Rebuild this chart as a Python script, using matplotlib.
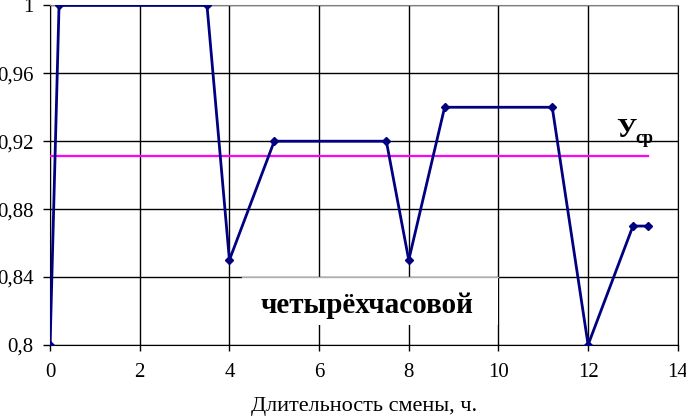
import matplotlib.pyplot as plt
from matplotlib.patches import Rectangle
from matplotlib.ticker import FuncFormatter

# shift length, h  /  coefficient
hours = [0, 0.2, 3.5, 4, 5, 7.5, 8, 8.8, 11.2, 12, 13, 13.33]
coef = [0.8, 1.0, 1.0, 0.85, 0.92, 0.92, 0.85, 0.94, 0.94, 0.8, 0.87, 0.87]
avg_x = [0, 13.33]
avg_y = [0.911, 0.911]
x_ticks = [0, 2, 4, 6, 8, 10, 12, 14]
y_ticks = [0.8, 0.84, 0.88, 0.92, 0.96, 1.0]

plt.rcParams['font.family'] = ['Liberation Serif', 'DejaVu Serif']

fig = plt.figure(figsize=(6.86, 4.18), dpi=100)
ax = fig.add_axes([0.073, 0.175, 0.915, 0.812])

ax.plot(avg_x, avg_y, color='#ff00ff', lw=1.6, zorder=3)
ax.plot(hours, coef, color='#000080', lw=2, marker='D', ms=4.5, zorder=4)

ax.set_xlim(0, 14)
ax.set_ylim(0.8, 1.0)
ax.set_xticks(x_ticks)
ax.set_yticks(y_ticks)
ax.yaxis.set_major_formatter(FuncFormatter(lambda v, p: ('%g' % round(v, 2)).replace('.', ',')))
ax.tick_params(axis='y', labelsize=15, length=5, width=1, pad=7)
ax.tick_params(axis='x', labelsize=15, length=4, width=1, pad=9)
ax.grid(True, color='black', lw=1)
ax.set_axisbelow(True)
for s in ['left', 'bottom', 'right']:
    ax.spines[s].set_color('black')
ax.spines['top'].set_color('#808080')

ax.set_xlabel('Длительность смены, ч.', fontsize=16, labelpad=11)

# white label box over the grid
ax.add_patch(Rectangle((4.27, 0.8115), 5.71, 0.0281, facecolor='white', edgecolor='none', zorder=1))
ax.plot([4.27, 9.98], [0.84, 0.84], color='#b0b0b0', lw=1, zorder=1.1)
ax.text(7.08, 0.819, 'четырёхчасовой', fontsize=21, fontweight='bold', ha='center', va='baseline', zorder=5)

ax.text(12.63, 0.9227, 'У', fontsize=20, fontweight='bold', ha='left', va='baseline')
ax.text(13.05, 0.919, 'ср', fontsize=13, fontweight='bold', ha='left', va='baseline')

fig.savefig('out.png', dpi=100)
